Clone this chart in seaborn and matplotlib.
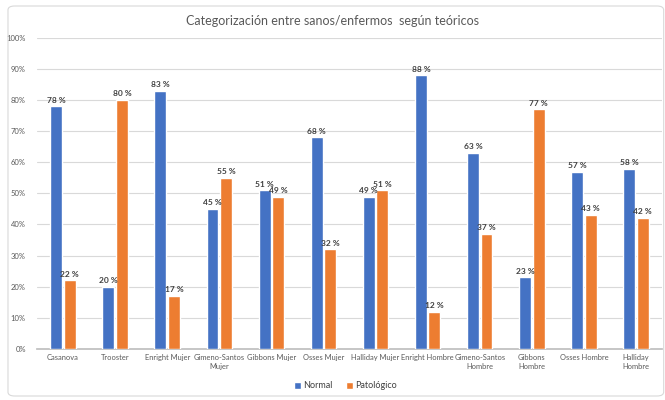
import matplotlib
matplotlib.use("Agg")
import matplotlib.pyplot as plt
import seaborn as sns
import pandas as pd
from matplotlib.patches import FancyBboxPatch
from matplotlib.ticker import PercentFormatter

categories = ["Casanova", "Trooster", "Enright Mujer", "Gimeno-Santos\nMujer",
              "Gibbons Mujer", "Osses Mujer", "Halliday Mujer", "Enright Hombre",
              "Gimeno-Santos\nHombre", "Gibbons\nHombre", "Osses Hombre",
              "Halliday\nHombre"]
normal = [78, 20, 83, 45, 51, 68, 49, 88, 63, 23, 57, 58]
patologico = [22, 80, 17, 55, 49, 32, 51, 12, 37, 77, 43, 42]
series = ["Normal", "Patológico"]
colors = ["#4472C4", "#ED7D31"]

df = pd.DataFrame({
    "categoria": categories * 2,
    "valor": normal + patologico,
    "serie": [series[0]] * len(categories) + [series[1]] * len(categories),
})

sns.set_theme(style="white")
plt.rcParams["font.family"] = ["Lato", "DejaVu Sans"]

fig = plt.figure(figsize=(6.65, 4.0), dpi=100)
ax = fig.add_axes([0.0556, 0.128, 0.94, 0.777])

sns.barplot(data=df, x="categoria", y="valor", hue="serie", order=categories,
            hue_order=series, palette=colors, width=0.52, gap=0.12,
            saturation=1, ax=ax, legend=True, zorder=3)

for container in ax.containers:
    ax.bar_label(container, labels=[f"{v:.0f} %" for v in container.datavalues],
                 padding=2, fontsize=6, fontweight="bold", color="#404040")

ax.set_ylim(0, 100)
ax.set_yticks(range(0, 101, 10))
ax.yaxis.set_major_formatter(PercentFormatter(decimals=0))
ax.grid(axis="y", color="#D9D9D9", linewidth=0.8, zorder=0)
ax.set_axisbelow(True)
for side in ["top", "right", "left"]:
    ax.spines[side].set_visible(False)
ax.spines["bottom"].set_color("#BFBFBF")
ax.tick_params(axis="y", labelsize=5.5, labelcolor="#595959", length=0, pad=8)
ax.tick_params(axis="x", labelsize=5.4, labelcolor="#595959", length=0, pad=4)
ax.set_xlabel("")
ax.set_ylabel("")
ax.set_xlim(-0.5, len(categories) - 0.5)

fig.text(0.5, 0.947, "Categorización entre sanos/enfermos  según teóricos",
         ha="center", va="center", fontsize=9, color="#595959")

handles, labels = ax.get_legend_handles_labels()
ax.legend(handles, labels, loc="center", bbox_to_anchor=(0.52, 0.035),
          bbox_transform=fig.transFigure, ncol=2, frameon=False, fontsize=6.5,
          handlelength=0.7, handleheight=0.7, handletextpad=0.3,
          columnspacing=1.5, labelcolor="#404040")

fig.patches.append(FancyBboxPatch((0.012, 0.01), 0.986, 0.975,
                                  boxstyle="round,pad=0,rounding_size=0.01",
                                  transform=fig.transFigure, fill=False,
                                  edgecolor="#D9D9D9", linewidth=0.8))

fig.savefig("out.png", dpi=100)
